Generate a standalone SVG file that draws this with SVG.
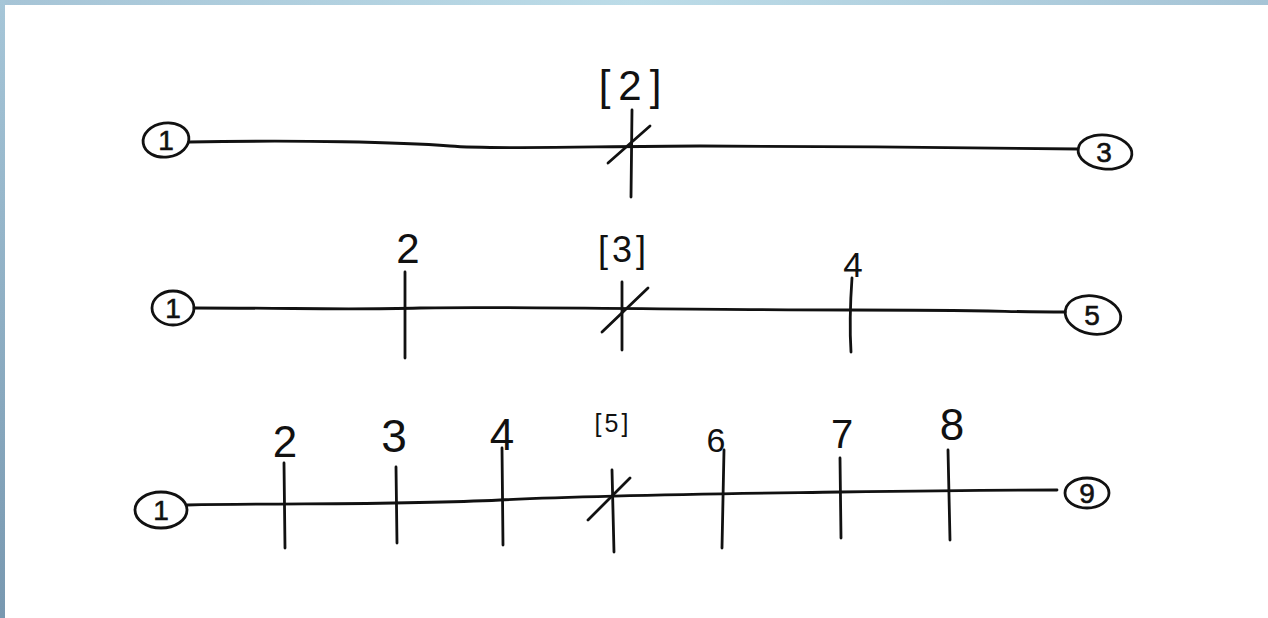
<svg xmlns="http://www.w3.org/2000/svg" width="1268" height="618" viewBox="0 0 1268 618">
<defs>
<linearGradient id="gTop" x1="0" y1="0" x2="1" y2="0">
<stop offset="0" stop-color="#a6c4d6"/><stop offset="0.5" stop-color="#bcdce8"/><stop offset="1" stop-color="#a6c4d6"/>
</linearGradient>
<linearGradient id="gLeft" x1="0" y1="0" x2="0" y2="1">
<stop offset="0" stop-color="#a6c6d8"/><stop offset="1" stop-color="#7898b0"/>
</linearGradient>
<style>
.ln{fill:none;stroke:#111;stroke-width:2.8;stroke-linecap:round;stroke-linejoin:round}
.nd{fill:none;stroke:#111;stroke-width:2.8}
.t{font-family:"Liberation Sans","DejaVu Sans",sans-serif;fill:#111;text-anchor:middle}
.c{font-size:28px;stroke:#111;stroke-width:0.6}
</style>
</defs>
<rect x="0" y="0" width="1268" height="618" fill="#ffffff"/>
<rect x="0" y="0" width="1268" height="5" fill="url(#gTop)"/>
<rect x="0" y="0" width="5" height="618" fill="url(#gLeft)"/>

<g id="connectors">
<path class="ln" d="M189,142 C300,140 400,142 450,146 S600,146 700,146 S1000,148 1078,149"/>
<path class="ln" d="M194,308 C300,308 350,310 420,308 S700,310 850,310 S1000,312 1065,312"/>
<path class="ln" d="M187,505 C300,503 400,505 500,500 S700,494 840,492 S1000,490 1057,490"/>
</g>

<!-- Row 1 -->
<g id="r1-n1"><ellipse class="nd" cx="166" cy="140" rx="23" ry="17" transform="rotate(-8 166 140)"/><text class="t c" x="166" y="150">1</text></g>
<g id="r1-n2"><path class="ln" d="M632,110 L631,197"/><path class="ln" d="M608,163 L650,126"/><text class="t" x="634" y="100" font-size="42" letter-spacing="8">[2]</text></g>
<g id="r1-n3"><ellipse class="nd" cx="1105" cy="152" rx="27" ry="17" transform="rotate(6 1105 152)"/><text class="t c" x="1104" y="162">3</text></g>

<!-- Row 2 -->
<g id="r2-n1"><ellipse class="nd" cx="173" cy="308" rx="21" ry="17"/><text class="t c" x="173" y="318">1</text></g>
<g id="r2-n2"><path class="ln" d="M405,272 L405,358"/><text class="t" x="408" y="263" font-size="42">2</text></g>
<g id="r2-n3"><path class="ln" d="M622,282 L622,350"/><path class="ln" d="M602,332 L648,288"/><text class="t" x="624" y="262" font-size="36" letter-spacing="4">[3]</text></g>
<g id="r2-n4"><path class="ln" d="M852,278 Q849,320 851,352"/><text class="t" x="853" y="277" font-size="35">4</text></g>
<g id="r2-n5"><ellipse class="nd" cx="1093" cy="315" rx="28" ry="19" transform="rotate(10 1093 315)"/><text class="t c" x="1092" y="325">5</text></g>

<!-- Row 3 -->
<g id="r3-n1"><ellipse class="nd" cx="161" cy="510" rx="26" ry="18"/><text class="t c" x="161" y="520">1</text></g>
<g id="r3-n2"><path class="ln" d="M284,463 L285,548"/><text class="t" x="285" y="457" font-size="44">2</text></g>
<g id="r3-n3"><path class="ln" d="M396,467 L397,543"/><text class="t" x="394" y="452" font-size="46">3</text></g>
<g id="r3-n4"><path class="ln" d="M502,448 L503,545"/><text class="t" x="502" y="450" font-size="44">4</text></g>
<g id="r3-n5"><path class="ln" d="M612,470 L614,552"/><path class="ln" d="M588,520 L630,478"/><text class="t" x="613" y="432" font-size="25" letter-spacing="3">[5]</text></g>
<g id="r3-n6"><path class="ln" d="M724,450 L722,548"/><text class="t" x="716" y="452" font-size="34">6</text></g>
<g id="r3-n7"><path class="ln" d="M840,458 L841,538"/><text class="t" x="842" y="448" font-size="40">7</text></g>
<g id="r3-n8"><path class="ln" d="M948,450 L950,540"/><text class="t" x="952" y="440" font-size="44">8</text></g>
<g id="r3-n9"><ellipse class="nd" cx="1087" cy="493" rx="22" ry="15"/><text class="t c" x="1087" y="503">9</text></g>
</svg>
